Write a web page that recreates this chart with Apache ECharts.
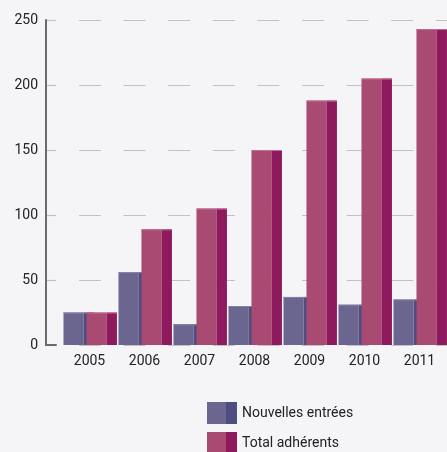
<!DOCTYPE html>
<html><head><meta charset="utf-8">
<script src="https://cdn.jsdelivr.net/npm/echarts@6/dist/echarts.min.js"></script>
<style>html,body{margin:0;padding:0;background:#f5f5f7}#c{width:447px;height:452px}</style>
</head><body><div id="c"></div>
<script>
var years = ['2005','2006','2007','2008','2009','2010','2011'];
var nouvelles = [25, 56, 16, 30, 37, 31, 35];
var total = [25, 89, 105, 150, 188, 205, 243];
var yTicks = {min: 0, max: 250, interval: 50};
var seriesNames = ['Nouvelles entrées', 'Total adhérents'];

var BLUE = {front:'#6b6690', side:'#4f4c80', light:'#8580a6'};
var PINK = {front:'#a94a73', side:'#8e195d', light:'#c06e92'};

function grad(c){
  return {type:'linear',x:0,y:0,x2:1,y2:0,colorStops:[
    {offset:0,color:c.front},{offset:0.64,color:c.front},
    {offset:0.64,color:c.side},{offset:1,color:c.side}]};
}
function makeRender(c, off){
  return function(params, api){
    var x = api.value(0), y = api.value(1);
    var top = api.coord([x, y]);
    var base = api.coord([x, 0]);
    var band = api.size([1, 0])[0];
    var fw = band * 0.364, sw = band * 0.19;
    var fx = top[0] + off * band;
    var h = base[1] - top[1];
    return {type:'group', children:[
      {type:'rect', shape:{x:fx, y:top[1], width:fw, height:h}, style:{fill:c.front}},
      {type:'rect', shape:{x:fx+fw, y:top[1], width:sw, height:h}, style:{fill:c.side}},
      {type:'rect', shape:{x:fx, y:top[1], width:fw+sw, height:1}, style:{fill:c.light}}
    ]};
  };
}
var chart = echarts.init(document.getElementById('c'));
var font = 'Roboto, "Noto Sans", sans-serif';
function leg(name, top){
  return {
    orient:'vertical', left:207, top:top, itemWidth:30, itemHeight:22,
    padding:0, icon:'rect', itemGap:6,
    textStyle:{fontSize:14, color:'#222', fontFamily:font},
    data:[name]
  };
}
chart.setOption({
  backgroundColor:'#f5f5f7',
  animation:false,
  textStyle:{fontFamily:font},
  legend:[leg(seriesNames[0], 402), leg(seriesNames[1], 432)],
  grid:[
    {left:62, right:0, top:20, bottom:107},
    {left:46, width:10, top:20, bottom:107}
  ],
  xAxis:[
    {type:'category', gridIndex:0, data:years, boundaryGap:true,
     axisLine:{show:false}, axisTick:{show:false},
     axisLabel:{fontSize:14, color:'#222', margin:9, fontFamily:font}},
    {type:'value', gridIndex:1, min:0, max:1, show:true,
     axisLine:{show:true, lineStyle:{color:'#6b6b6b', width:2}},
     axisTick:{show:false}, axisLabel:{show:false}, splitLine:{show:false}}
  ],
  yAxis:[
    {type:'value', gridIndex:0, min:yTicks.min, max:yTicks.max, interval:yTicks.interval,
     axisLine:{show:false}, axisTick:{show:false}, axisLabel:{show:false},
     splitLine:{show:true, lineStyle:{color:'#c2c2c2', width:1.2, type:[22,22.6], dashOffset:27.6}}},
    {type:'value', gridIndex:1, min:yTicks.min, max:yTicks.max, interval:yTicks.interval,
     axisLine:{show:true, lineStyle:{color:'#6b6b6b', width:2}}, axisTick:{show:false},
     axisLabel:{fontSize:14, color:'#222', margin:8, fontFamily:font},
     splitLine:{show:true, lineStyle:{color:'#c2c2c2', width:1.2}}}
  ],
  series:[
    {name:seriesNames[0], type:'custom', xAxisIndex:0, yAxisIndex:0,
     itemStyle:{color:grad(BLUE)}, encode:{x:0,y:1},
     renderItem:makeRender(BLUE, -0.473),
     data:nouvelles.map(function(v,i){return [i,v];})},
    {name:seriesNames[1], type:'custom', xAxisIndex:0, yAxisIndex:0,
     itemStyle:{color:grad(PINK)}, encode:{x:0,y:1},
     renderItem:makeRender(PINK, -0.055),
     data:total.map(function(v,i){return [i,v];})}
  ]
});
</script></body></html>
